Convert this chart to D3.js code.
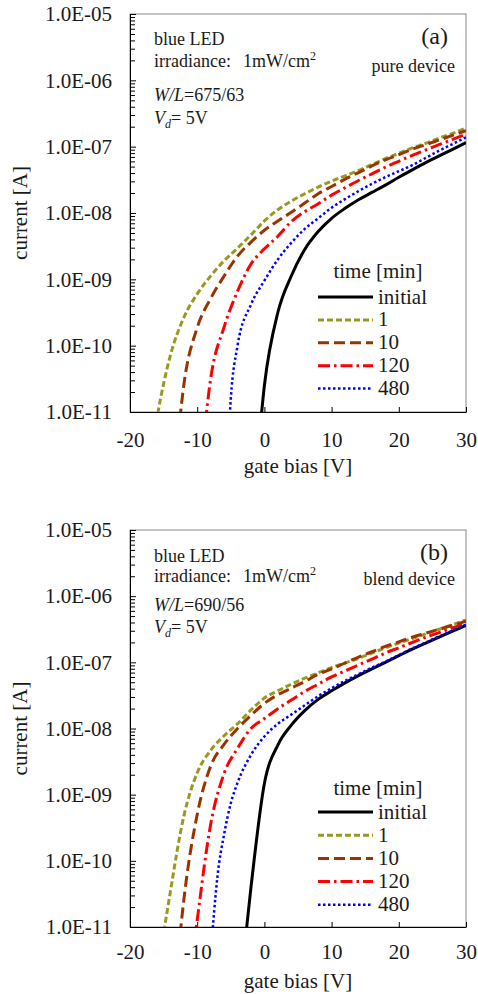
<!DOCTYPE html>
<html lang="en">
<head>
<meta charset="UTF-8">
<title>Current vs gate bias under blue LED</title>
<script src="https://cdn.jsdelivr.net/npm/d3@7"></script>
<style>
  body { margin: 0; background: #fff; }
  svg text { font-family: "Liberation Serif", "DejaVu Serif", serif; fill: #1a1a1a; }
</style>
</head>
<body>
<div id="container"></div>
<script>
// ---- data (log10 of current in A) ----
const seriesNames = ["initial", "1", "10", "120", "480"];
const xTicks = [-20, -10, 0, 10, 20, 30];
const yTickValues = [1e-11, 1e-10, 1e-9, 1e-8, 1e-7, 1e-6, 1e-5];
const yTickLabels = ["1.0E-11", "1.0E-10", "1.0E-09", "1.0E-08", "1.0E-07", "1.0E-06", "1.0E-05"];

// (a) pure device
const vA_initial = [-2, 0, 2, 4, 6, 8, 10, 12, 14, 16, 18, 20, 22, 24, 26, 28, 30];
const logA_initial = [-13, -10.6, -9.5, -8.95, -8.55, -8.28, -8.08, -7.93, -7.8, -7.69, -7.58, -7.46, -7.35, -7.24, -7.14, -7.04, -6.94];
const vA_1 = [-18, -16, -14, -12, -10, -8, -6, -4, -2, 0, 2, 4, 6, 8, 10, 12, 14, 16, 18, 20, 22, 24, 26, 28, 30];
const logA_1 = [-12.5, -11.1, -10.15, -9.58, -9.22, -8.95, -8.72, -8.53, -8.33, -8.12, -7.95, -7.82, -7.71, -7.61, -7.52, -7.44, -7.36, -7.27, -7.18, -7.1, -7.02, -6.95, -6.87, -6.8, -6.72];
const vA_10 = [-14, -12, -10, -8, -6, -4, -2, 0, 2, 4, 6, 8, 10, 12, 14, 16, 18, 20, 22, 24, 26, 28, 30];
const logA_10 = [-12.8, -10.6, -9.73, -9.29, -8.95, -8.65, -8.44, -8.26, -8.12, -7.99, -7.85, -7.71, -7.6, -7.49, -7.39, -7.29, -7.2, -7.12, -7.04, -6.97, -6.9, -6.83, -6.76];
const vA_120 = [-10, -8, -6, -4, -2, 0, 2, 4, 6, 8, 10, 12, 14, 16, 18, 20, 22, 24, 26, 28, 30];
const logA_120 = [-12.5, -10.5, -9.72, -9.18, -8.77, -8.54, -8.35, -8.13, -7.98, -7.86, -7.73, -7.62, -7.51, -7.41, -7.31, -7.22, -7.13, -7.05, -6.97, -6.89, -6.81];
const vA_480 = [-6, -5, -4, -2, 0, 2, 4, 6, 8, 10, 12, 14, 16, 18, 20, 22, 24, 26, 28, 30];
const logA_480 = [-13, -10.8, -10.0, -9.38, -9.02, -8.7, -8.45, -8.24, -8.08, -7.92, -7.79, -7.67, -7.56, -7.46, -7.37, -7.28, -7.17, -7.06, -6.96, -6.86];

// (b) blend device
const vB_initial = [-4, -2, 0, 2, 4, 6, 8, 10, 12, 14, 16, 18, 20, 22, 24, 26, 28, 30];
const logB_initial = [-12.3, -10.4, -8.83, -8.25, -7.95, -7.73, -7.56, -7.43, -7.31, -7.2, -7.1, -7.0, -6.9, -6.8, -6.71, -6.62, -6.53, -6.44];
const vB_1 = [-18, -16, -14, -12, -10, -8, -6, -4, -2, 0, 2, 4, 6, 8, 10, 12, 14, 16, 18, 20, 22, 24, 26, 28, 30];
const logB_1 = [-13.5, -11.8, -10.47, -9.33, -8.67, -8.33, -8.11, -7.93, -7.72, -7.54, -7.43, -7.33, -7.24, -7.16, -7.08, -7.01, -6.94, -6.86, -6.78, -6.71, -6.64, -6.57, -6.5, -6.43, -6.36];
const vB_10 = [-14, -12, -10, -8, -6, -4, -2, 0, 2, 4, 6, 8, 10, 12, 14, 16, 18, 20, 22, 24, 26, 28, 30];
const logB_10 = [-12.8, -10.6, -9.3, -8.57, -8.24, -8.0, -7.8, -7.62, -7.49, -7.39, -7.29, -7.18, -7.1, -7.01, -6.92, -6.84, -6.76, -6.69, -6.62, -6.56, -6.5, -6.44, -6.38];
const vB_120 = [-12, -10, -8, -6, -4, -2, 0, 2, 4, 6, 8, 10, 12, 14, 16, 18, 20, 22, 24, 26, 28, 30];
const logB_120 = [-12.6, -10.9, -9.45, -8.68, -8.3, -8.0, -7.85, -7.7, -7.57, -7.44, -7.33, -7.22, -7.13, -7.04, -6.95, -6.86, -6.78, -6.7, -6.62, -6.55, -6.48, -6.41];
const vB_480 = [-9, -8, -7, -6, -5, -4, -2, 0, 2, 4, 6, 8, 10, 12, 14, 16, 18, 20, 22, 24, 26, 28, 30];
const logB_480 = [-13.5, -11.5, -10.25, -9.6, -9.13, -8.82, -8.4, -8.12, -7.93, -7.79, -7.65, -7.51, -7.39, -7.28, -7.18, -7.08, -6.99, -6.89, -6.79, -6.7, -6.61, -6.52, -6.43];

// line styles per series
const styles = {
  "initial": {color: "#000000", dash: null, width: 3},
  "1":       {color: "#999922", dash: "6,3", width: 3},
  "10":      {color: "#993300", dash: "11,5", width: 3},
  "120":     {color: "#ff0000", dash: "12,4,2.5,4", width: 3},
  "480":     {color: "#0000ff", dash: "2.5,2.5", width: 2.5}
};

const FONT = '"Liberation Serif", "DejaVu Serif", serif';

const panels = [
  {id: "a", top: 14, bottom: 412, label: "(a)", device: "pure device", wl: "675/63",
   series: [[vA_initial, logA_initial], [vA_1, logA_1], [vA_10, logA_10], [vA_120, logA_120], [vA_480, logA_480]],
   xPad: 20, titleY: 473, annY: [45, 67, 101, 124], labelY: 44, devY: 72, legTitleY: 278, legY0: 297, legStep: 22.9},
  {id: "b", top: 530, bottom: 927, label: "(b)", device: "blend device", wl: "690/56",
   series: [[vB_initial, logB_initial], [vB_1, logB_1], [vB_10, logB_10], [vB_120, logB_120], [vB_480, logB_480]],
   xPad: 17, titleY: 988, annY: [562, 582, 611, 633], labelY: 560, devY: 585, legTitleY: 795, legY0: 812, legStep: 23.2}
];

const left = 130, right = 466;

let svg = d3.select("#container").append("svg")
  .attr("width", 478).attr("height", 994)
  .style("display", "block");

panels.forEach(p => {
  let x = d3.scaleLinear().domain([-20, 30]).range([left, right]);
  let y = d3.scaleLog().domain([1e-11, 1e-5]).range([p.bottom, p.top]);

  svg.append("clipPath").attr("id", "clip-" + p.id)
    .append("rect")
    .attr("x", left).attr("y", p.top)
    .attr("width", right - left).attr("height", p.bottom - p.top);

  // frame (top + right in grey)
  svg.append("rect")
    .attr("x", left).attr("y", p.top)
    .attr("width", right - left).attr("height", p.bottom - p.top)
    .attr("fill", "none").attr("stroke", "#888").attr("stroke-width", 1);

  // y axis with minor log ticks
  let isMajor = d => Math.abs(Math.log10(d) - Math.round(Math.log10(d))) < 1e-6;
  let yAxis = d3.axisLeft(y)
    .tickValues(y.ticks())
    .tickSizeInner(-5).tickSizeOuter(0).tickPadding(18)
    .tickFormat(d => {
      let i = yTickValues.findIndex(v => Math.abs(v - d) / v < 1e-6);
      return i >= 0 ? yTickLabels[i] : "";
    });
  let gy = svg.append("g").attr("transform", "translate(" + left + ",0)").call(yAxis)
    .attr("font-family", FONT);
  gy.selectAll("line").attr("stroke", "#000").attr("x2", d => isMajor(d) ? 6 : 5);
  gy.select(".domain").attr("stroke", "#000");
  gy.selectAll("text").style("font-size", "21px").style("font-family", FONT).attr("fill", "#1a1a1a");

  let xAxis = d3.axisBottom(x).tickValues(xTicks)
    .tickFormat(d => String(d))
    .tickSizeInner(-5).tickSizeOuter(0).tickPadding(p.xPad);
  let gx = svg.append("g").attr("transform", "translate(0," + p.bottom + ")").call(xAxis)
    .attr("font-family", FONT);
  gx.selectAll("line").attr("stroke", "#000");
  gx.select(".domain").attr("stroke", "#000");
  gx.selectAll("text").style("font-size", "21px").style("font-family", FONT).attr("fill", "#1a1a1a");

  // axis titles
  svg.append("text")
    .attr("x", (left + right) / 2).attr("y", p.titleY)
    .attr("text-anchor", "middle").style("font-size", "21px").style("font-family", FONT)
    .text("gate bias [V]");
  svg.append("text")
    .attr("transform", "translate(27," + (p.top + p.bottom) / 2 + ") rotate(-90)")
    .attr("text-anchor", "middle").style("font-size", "21px").style("font-family", FONT)
    .text("current [A]");

  // curves
  let line = d3.line()
    .x(d => x(d.v))
    .y(d => y(d.i))
    .curve(d3.curveMonotoneX);
  let plot = svg.append("g").attr("clip-path", "url(#clip-" + p.id + ")");
  p.series.forEach((s, k) => {
    let st = styles[seriesNames[k]];
    let data = s[0].map((v, j) => ({v: v, i: Math.pow(10, s[1][j])}));
    plot.append("path")
      .datum(data)
      .attr("d", line)
      .attr("fill", "none")
      .attr("stroke", st.color)
      .attr("stroke-width", st.width)
      .attr("stroke-dasharray", st.dash)
      .attr("stroke-linejoin", "round");
  });

  // legend
  svg.append("text").attr("x", 378).attr("y", p.legTitleY)
    .attr("text-anchor", "middle").style("font-size", "21px").style("font-family", FONT).text("time [min]");
  seriesNames.forEach((name, k) => {
    let st = styles[name];
    let ly = p.legY0 + k * p.legStep;
    svg.append("line")
      .attr("x1", 318).attr("x2", 373).attr("y1", ly).attr("y2", ly)
      .attr("stroke", st.color).attr("stroke-width", st.width)
      .attr("stroke-dasharray", st.dash);
    svg.append("text").attr("x", 378).attr("y", ly + 6.5)
      .style("font-size", "21px").style("font-family", FONT).text(name);
  });

  // annotations
  let ann = svg.append("g").style("font-family", FONT).style("font-size", "18px");
  ann.append("text").attr("x", 154).attr("y", p.annY[0]).text("blue LED");
  let irr = ann.append("text").attr("x", 154).attr("y", p.annY[1]);
  irr.append("tspan").text("irradiance:");
  irr.append("tspan").attr("x", 243).text("1mW/cm");
  irr.append("tspan").attr("dy", -7).style("font-size", "12px").text("2");
  let wl = ann.append("text").attr("x", 154).attr("y", p.annY[2]);
  wl.append("tspan").style("font-style", "italic").text("W/L");
  wl.append("tspan").text("=" + p.wl);
  let vd = ann.append("text").attr("x", 154).attr("y", p.annY[3]);
  vd.append("tspan").style("font-style", "italic").text("V");
  vd.append("tspan").attr("dy", 4).style("font-size", "12px").style("font-style", "italic").text("d");
  vd.append("tspan").attr("dy", -4).text("= 5V");

  ann.append("text").attr("x", 448).attr("y", p.labelY)
    .attr("text-anchor", "end").style("font-size", "24px").text(p.label);
  ann.append("text").attr("x", 455).attr("y", p.devY)
    .attr("text-anchor", "end").text(p.device);
});
</script>
</body>
</html>
